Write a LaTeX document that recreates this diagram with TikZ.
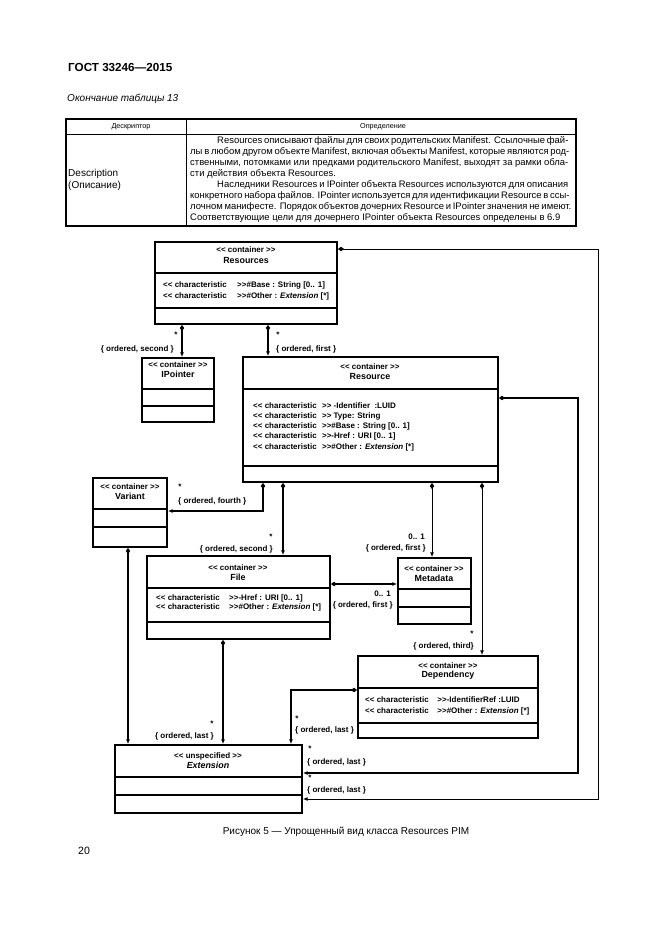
\documentclass[tikz,border=0pt]{standalone}
\usepackage{fontspec}
\setmainfont{Liberation Sans}
\newfontfamily\dfont{Liberation Sans}
\usetikzlibrary{arrows.meta,fit}
\newcommand\ClassBox[7]{%
  \node[cls, fit={(#2,#3) (#4,#5)}] (#1) {};
  \draw[div] (#2,#6) -- (#4,#6);
  \draw[div] (#2,#7) -- (#4,#7);}
\newcommand\Chr[1]{\makebox[#1][l]{<< characteristic}}
\begin{document}
\begin{tikzpicture}[x=0.9pt,y=-0.9pt,
  cls/.style={draw, line width=1.7pt, inner sep=0pt},
  div/.style={line width=1.2pt},
  thickc/.style={line width=1.5pt},
  medc/.style={line width=1.1pt},
  thinc/.style={line width=0.75pt},
  comp/.style={arrows={Diamond[length=5.5pt,width=4pt]-Latex[length=4.2pt,width=3.6pt]}},
  lbl/.style={inner sep=0pt, font=\dfont\bfseries\fontsize{7.2}{8}\selectfont},
  stereo/.style={inner sep=0pt, font=\dfont\bfseries\fontsize{7.2}{8}\selectfont},
  cname/.style={inner sep=0pt, font=\dfont\bfseries\fontsize{8}{9}\selectfont},
  attr/.style={inner sep=0pt, anchor=west, align=left, font={\dfont\bfseries\fontsize{7.2}{#1}\selectfont}},
  tnorm/.style={inner sep=0pt, anchor=base west, font=\fontsize{8.5}{11}\selectfont},
]
\fill[white] (0,0) rectangle (661,935);
\useasboundingbox (0,0) rectangle (661,935);

% ---- page header ----
\node[inner sep=0pt, anchor=west, font=\bfseries\fontsize{10.5}{12}\selectfont] (gost) at (68,67) {ГОСТ 33246—2015};
\node[inner sep=0pt, anchor=west, font=\itshape\fontsize{9}{11}\selectfont] (tcont) at (67,99) {Окончание таблицы 13};

% ---- table ----
\draw[line width=1.3pt] (66,119) rectangle (576,226);
\draw[line width=0.8pt] (66,134) -- (576,134);
\draw[line width=0.8pt] (186,119) -- (186,226);
\node[inner sep=0pt, font=\fontsize{6.5}{8}\selectfont] (h1) at (131,127) {Дескриптор};
\node[inner sep=0pt, font=\fontsize{6.5}{8}\selectfont] (h2) at (383,127) {Определение};
\node[inner sep=0pt, anchor=west, font=\fontsize{9}{11}\selectfont] (d1) at (68,174) {Description};
\node[inner sep=0pt, anchor=west, font=\fontsize{9}{11}\selectfont] (d2) at (68,186) {(Описание)};
\node[tnorm] (b1) at (217,143) {\makebox[315.9pt][s]{Resources описывают файлы для своих родительских Manifest. Ссылочные фай-}};
\node[tnorm] (b2) at (190,154.1) {\makebox[340.2pt][s]{лы в любом другом объекте Manifest, включая объекты Manifest, которые являются род-}};
\node[tnorm] (b3) at (190,165.2) {\makebox[340.2pt][s]{ственными, потомками или предками родительского Manifest, выходят за рамки обла-}};
\node[tnorm] (b4) at (190,176.3) {сти действия объекта Resources.};
\node[tnorm] (b5) at (217,187.4) {\makebox[315.9pt][s]{Наследники Resources и IPointer объекта Resources используются для описания}};
\node[tnorm] (b6) at (190,198.5) {\makebox[340.2pt][s]{конкретного набора файлов. IPointer используется для идентификации Resource в ссы-}};
\node[tnorm] (b7) at (190,209.6) {\makebox[340.2pt][s]{лочном манифесте. Порядок объектов дочерних Resource и IPointer значения не имеют.}};
\node[tnorm] (b8) at (190,220.7) {Соответствующие цели для дочернего IPointer объекта Resources определены в 6.9};

% ---- class boxes ----
\ClassBox{Resources}{155}{242}{337}{324}{273}{308}
\ClassBox{IPointer}{142}{358}{214}{422}{389}{406}
\ClassBox{Resource}{243}{357}{498}{482}{389}{466}
\ClassBox{Variant}{93}{478}{167}{547}{509}{527}
\ClassBox{File}{147}{556}{330}{639}{588}{622}
\ClassBox{Metadata}{398}{558}{471}{624}{589}{607}
\ClassBox{Dependency}{358}{656}{538}{738}{688}{723}
\ClassBox{Extension}{115}{745}{302}{813}{777}{795}

% ---- class titles ----
\node[stereo] (ResourcesS) at (246,250) {<< container >>};
\node[cname]  (ResourcesN) at (246,260) {Resources};
\node[stereo] (IPointerS) at (178,365) {<< container >>};
\node[cname]  (IPointerN) at (178,374) {IPointer};
\node[stereo] (ResourceS) at (370,367) {<< container >>};
\node[cname]  (ResourceN) at (370,376) {Resource};
\node[stereo] (VariantS) at (130,487) {<< container >>};
\node[cname]  (VariantN) at (130,496) {Variant};
\node[stereo] (FileS) at (238,568) {<< container >>};
\node[cname]  (FileN) at (238,577) {File};
\node[stereo] (MetadataS) at (434,569) {<< container >>};
\node[cname]  (MetadataN) at (434,578) {Metadata};
\node[stereo] (DependencyS) at (448,666) {<< container >>};
\node[cname]  (DependencyN) at (448,675) {Dependency};
\node[stereo] (ExtensionS) at (208,756) {<< unspecified >>};
\node[cname]  (ExtensionN) at (208,765) {\textit{Extension}};

% ---- attributes ----
\node[attr=9.9pt] (ResourcesA) at (163,290.5) {\Chr{66.6pt}>>\#Base : String [0.. 1]\\ \Chr{66.6pt}>>\#Other : \textit{Extension} [*]};
\node[attr=9.2pt] (ResourceA) at (253,426.5) {\Chr{62pt}>> -Identifier \ :LUID\\ \Chr{62pt}>> Type: String\\ \Chr{62pt}>>\#Base : String [0.. 1]\\ \Chr{62pt}>>-Href : URI [0.. 1]\\ \Chr{62pt}>>\#Other : \textit{Extension} [*]};
\node[attr=8.1pt] (FileA) at (156,603) {\Chr{65.7pt}>>-Href : URI [0.. 1]\\ \Chr{65.7pt}>>\#Other : \textit{Extension} [*]};
\node[attr=9.9pt] (DependencyA) at (365,705.5) {\Chr{65pt}>>-IdentifierRef :LUID\\ \Chr{65pt}>>\#Other : \textit{Extension} [*]};

% ---- connectors ----
\draw[thickc,comp] (182,0 |- Resources.south) -- (182,0 |- IPointer.north);
\draw[thickc,comp] (268,0 |- Resources.south) -- (268,0 |- Resource.north);
\draw[thinc,comp] (Resources.east |- 0,249) -- (598,249) -- (598,799) -- (Extension.east |- 0,799);
\draw[medc,comp] (Resource.east |- 0,398) -- (578,398) -- (578,773) -- (Extension.east |- 0,773);
\draw[medc,comp] (263,0 |- Resource.south) -- (263,511) -- (Variant.east |- 0,511);
\draw[thickc,comp] (283,0 |- Resource.south) -- (283,0 |- File.north);
\draw[thinc,comp] (432,0 |- Resource.south) -- (432,0 |- Metadata.north);
\draw[thinc,comp] (482,0 |- Resource.south) -- (482,0 |- Dependency.north);
\draw[thickc,comp] (File.east |- 0,584) -- (Metadata.west |- 0,584);
\draw[thickc,comp] (128,0 |- Variant.south) -- (128,0 |- Extension.north);
\draw[thickc,comp] (223,0 |- File.south) -- (223,0 |- Extension.north);
\draw[medc,comp] (Dependency.west |- 0,690) -- (291,690) -- (291,0 |- Extension.north);

% ---- connector labels ----
\node[lbl] (m1) at (176,335) {*};
\node[lbl, anchor=east] (o1) at (174,349) {\{ ordered, second \}};
\node[lbl] (m2) at (278,335) {*};
\node[lbl, anchor=west] (o2) at (276,349) {\{ ordered, first \}};
\node[lbl] (m5) at (180,487) {*};
\node[lbl, anchor=west] (o5) at (178,501) {\{ ordered, fourth \}};
\node[lbl] (m6) at (271,537) {*};
\node[lbl, anchor=east] (o6) at (273,549) {\{ ordered, second \}};
\node[lbl, anchor=east] (m7) at (425,537) {0.. 1};
\node[lbl, anchor=east] (o7) at (426,548) {\{ ordered, first \}};
\node[lbl] (m8) at (472,634) {*};
\node[lbl, anchor=east] (o8) at (474,646) {\{ ordered, third\}};
\node[lbl, anchor=east] (m9) at (391,594) {0.. 1};
\node[lbl, anchor=east] (o9) at (393,605) {\{ ordered, first \}};
\node[lbl] (m11) at (212,724) {*};
\node[lbl, anchor=east] (o11) at (214,736) {\{ ordered, last \}};
\node[lbl] (m12) at (297,719) {*};
\node[lbl, anchor=west] (o12) at (295,730) {\{ ordered, last \}};
\node[lbl] (m4) at (310,749) {*};
\node[lbl, anchor=west] (o4) at (307,762) {\{ ordered, last \}};
\node[lbl] (m3) at (310,778) {*};
\node[lbl, anchor=west] (o3) at (307,790) {\{ ordered, last \}};

% ---- caption & page number ----
\node[inner sep=0pt, font=\fontsize{9}{11}\selectfont] (cap) at (346,832) {Рисунок 5 — Упрощенный вид класса Resources PIM};
\node[inner sep=0pt, anchor=west, font=\fontsize{9.5}{11}\selectfont] (pg) at (78,851) {20};
\end{tikzpicture}
\end{document}
